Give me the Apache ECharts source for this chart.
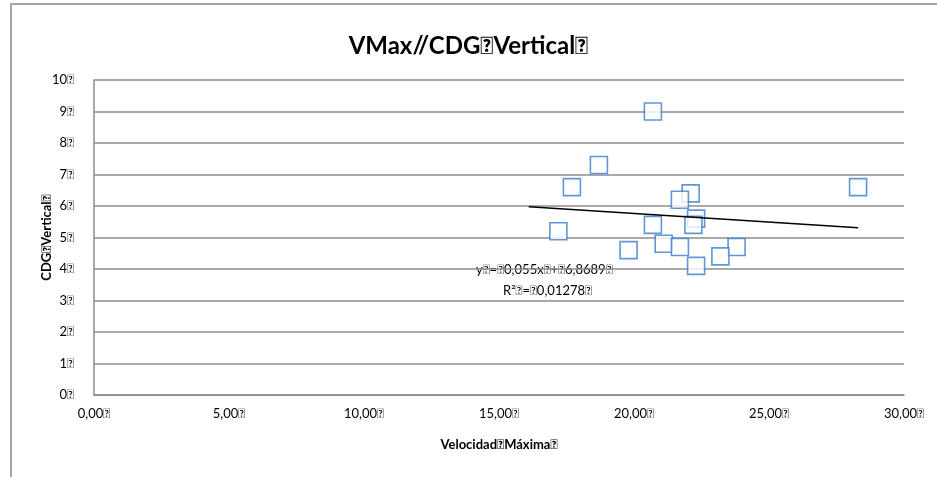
<!DOCTYPE html>
<html>
<head>
<meta charset="utf-8">
<script src="https://cdn.jsdelivr.net/npm/echarts@6/dist/echarts.min.js"></script>
<style>
  html, body { margin: 0; padding: 0; background: #fff; }
  #frame { position: absolute; left: 10px; top: 3px; width: 940px; height: 480px;
           border-left: 2px solid #a6a6a6; border-top: 2px solid #a6a6a6; }
  #chart { position: absolute; left: 0; top: 0; width: 937px; height: 477px; }
</style>
</head>
<body>
<div id="frame"></div>
<div id="chart"></div>
<script>
// missing-glyph marker as seen in the source rendering
const X = "\uE000";

const titleText = "VMax//CDG" + X + "Vertical" + X;
const xName = "Velocidad" + X + "Máxima" + X;
const yName = "CDG" + X + "Vertical" + X;
const eqLine1 = "y" + X + "=" + X + "0,055x" + X + "+" + X + "6,8689" + X;
const eqLine2 = "R²" + X + "=" + X + "0,01278" + X;

// velocidad máxima vs CDG vertical
const velocidad = [20.7, 18.7, 17.7, 28.3, 22.1, 21.7, 22.3, 22.2, 20.7, 17.2, 19.8, 21.1, 21.7, 23.8, 23.2, 22.3];
const cdg = [9.0, 7.3, 6.6, 6.6, 6.4, 6.2, 5.6, 5.4, 5.4, 5.2, 4.6, 4.8, 4.7, 4.7, 4.4, 4.1];

// trend line end points
const trendX = [16.1, 28.3];
const trendY = [5.98, 5.31];

const font = "Lato, sans-serif";
const grid = { left: 94, right: 33, top: 80, bottom: 82 };

const chart = echarts.init(document.getElementById("chart"));
chart.setOption({
  animation: false,
  title: {
    text: titleText,
    left: "center",
    top: 29,
    textStyle: { fontFamily: font, fontSize: 24, fontWeight: "bold", color: "#000" },
  },
  grid,
  xAxis: {
    type: "value",
    min: 0,
    max: 30,
    interval: 5,
    name: xName,
    nameLocation: "middle",
    nameGap: 43,
    nameMoveOverlap: false,
    nameTextStyle: { fontFamily: font, fontSize: 13, fontWeight: "bold", color: "#000" },
    axisLine: { lineStyle: { color: "#8c8c8c", width: 1.5 } },
    axisTick: { show: false },
    axisLabel: {
      fontFamily: font, fontSize: 13, color: "#000", margin: 12,
      formatter: (v) => v.toFixed(2).replace(".", ",") + X,
    },
    splitLine: { show: false },
  },
  yAxis: {
    type: "value",
    min: 0,
    max: 10,
    interval: 1,
    name: yName,
    nameLocation: "middle",
    nameGap: 41,
    nameMoveOverlap: false,
    nameTextStyle: { fontFamily: font, fontSize: 13, fontWeight: "bold", color: "#000" },
    axisLine: { show: true, lineStyle: { color: "#8c8c8c", width: 1.5 } },
    axisTick: { show: false },
    axisLabel: {
      fontFamily: font, fontSize: 13, color: "#000", margin: 20,
      formatter: (v) => v + X,
    },
    splitLine: { lineStyle: { color: "#8c8c8c", width: 1.5 } },
  },
  graphic: [
    {
      type: "text",
      left: 476,
      top: 263,
      style: { text: eqLine1, font: "13px " + font, fill: "#000" },
    },
    {
      type: "text",
      left: 503,
      top: 284,
      style: { text: eqLine2, font: "13px " + font, fill: "#000" },
    },
  ],
  series: [
    {
      type: "scatter",
      symbol: "rect",
      symbolSize: 17,
      itemStyle: {
        color: "#fff",
        borderColor: "#3a7ccc",
        borderWidth: 1.6,
      },
      data: velocidad.map((v, i) => [v, cdg[i]]),
      z: 3,
    },
    {
      type: "line",
      symbol: "none",
      lineStyle: { color: "#000", width: 1.5 },
      data: trendX.map((v, i) => [v, trendY[i]]),
      z: 4,
    },
  ],
});
</script>
</body>
</html>
